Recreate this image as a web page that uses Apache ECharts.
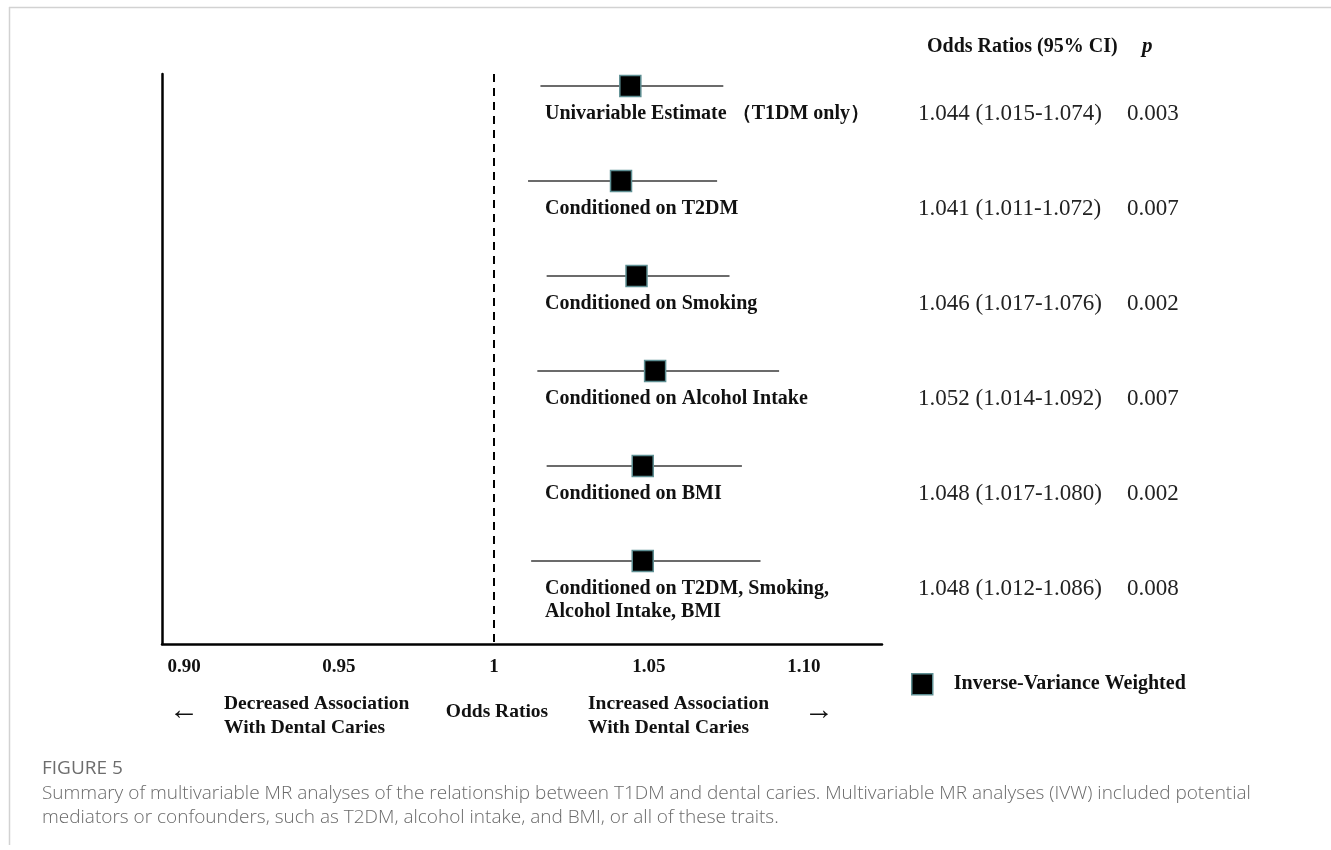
<!DOCTYPE html>
<html>
<head>
<meta charset="utf-8">
<title>Multivariable MR forest plot</title>
<script src="https://cdn.jsdelivr.net/npm/echarts@6/dist/echarts.min.js"></script>
<style>
  html, body { margin: 0; padding: 0; background: #ffffff; }
  #chart { width: 1331px; height: 850px; }
</style>
</head>
<body>
<div id="chart"></div>
<script>
// Estimates per model (IVW), listed top to bottom
const rowLabels = [
  'Univariable Estimate （T1DM only）',
  'Conditioned on T2DM',
  'Conditioned on Smoking',
  'Conditioned on Alcohol Intake',
  'Conditioned on BMI',
  'Conditioned on T2DM, Smoking,\nAlcohol Intake, BMI'
];
const oddsRatios = [1.044, 1.041, 1.046, 1.052, 1.048, 1.048];
const ciLower    = [1.015, 1.011, 1.017, 1.014, 1.017, 1.012];
const ciUpper    = [1.074, 1.072, 1.076, 1.092, 1.080, 1.086];
const pValues    = ['0.003', '0.007', '0.002', '0.007', '0.002', '0.008'];

// x-axis ticks
const xTicks      = [0.90, 0.95, 1, 1.05, 1.10];
const xTickLabels = ['0.90', '0.95', '1', '1.05', '1.10'];

const seriesName = 'Inverse-Variance Weighted';

const SERIF = '"Liberation Serif", "Times New Roman", serif';
const SANS  = '"Open Sans", "Noto Sans", sans-serif';

const chart = echarts.init(document.getElementById('chart'), null, { renderer: 'canvas' });

const rows = rowLabels.map((_, i) => [i, ciLower[i], oddsRatios[i], ciUpper[i]]);

function renderRow(params, api) {
  const i = api.value(0);
  const lo = api.coord([api.value(1), i]);
  const est = api.coord([api.value(2), i]);
  const hi = api.coord([api.value(3), i]);
  const y = est[1];
  const box = 21;
  return {
    type: 'group',
    children: [
      { type: 'line', shape: { x1: lo[0], y1: y, x2: hi[0], y2: y },
        style: { stroke: '#3a3a3a', lineWidth: 1.6 } },
      { type: 'rect', shape: { x: est[0] - box / 2, y: y - box / 2, width: box, height: box },
        style: { fill: '#000000', stroke: '#5e8f93', lineWidth: 1.5 } },
      { type: 'text', x: 545, y: y + 16.5,
        style: { text: rowLabels[i], font: 'bold 20px ' + SERIF, fill: '#111111',
                 verticalAlign: 'top', lineHeight: 23 } },
      { type: 'text', x: 918, y: y + 28,
        style: { text: oddsRatios[i].toFixed(3) + ' (' + ciLower[i].toFixed(3) + '-' + ciUpper[i].toFixed(3) + ')',
                 font: '23px ' + SERIF, fill: '#222222', verticalAlign: 'middle' } },
      { type: 'text', x: 1127, y: y + 28,
        style: { text: pValues[i], font: '23px ' + SERIF, fill: '#222222', verticalAlign: 'middle' } }
    ]
  };
}

const option = {
  animation: false,
  backgroundColor: '#ffffff',
  grid: { left: 162, top: 74, width: 720, height: 570 },
  xAxis: {
    type: 'value',
    min: 0.8929,
    max: 1.1252,
    axisLine: { show: true, onZero: false, lineStyle: { color: '#000000', width: 2.5 } },
    axisTick: { show: false },
    splitLine: { show: false },
    axisLabel: {
      customValues: xTicks,
      margin: 14,
      color: '#111111',
      fontFamily: SERIF,
      fontWeight: 'bold',
      fontSize: 19,
      formatter: function (v) {
        let k = 0;
        xTicks.forEach((t, j) => { if (Math.abs(t - v) < Math.abs(xTicks[k] - v)) k = j; });
        return xTickLabels[k];
      }
    }
  },
  yAxis: {
    type: 'value',
    inverse: true,
    min: -0.126,
    max: 5.874,
    axisLine: { show: true, onZero: false, lineStyle: { color: '#000000', width: 2.5 } },
    axisTick: { show: false },
    axisLabel: { show: false },
    splitLine: { show: false }
  },
  legend: {
    left: 911,
    top: 673,
    padding: 0,
    itemWidth: 21,
    itemHeight: 21,
    selectedMode: false,
    data: [{ name: seriesName, icon: 'rect',
             itemStyle: { color: '#000000', borderColor: '#5e8f93', borderWidth: 1.5 } }],
    textStyle: { fontFamily: SERIF, fontWeight: 'bold', fontSize: 20, color: '#111111',
                 padding: [0, 0, 0, 16] }
  },
  series: [{
    name: seriesName,
    type: 'custom',
    renderItem: renderRow,
    encode: { x: [1, 2, 3], y: 0 },
    data: rows,
    silent: true,
    itemStyle: { color: '#000000' },
    markLine: {
      silent: true,
      symbol: 'none',
      label: { show: false },
      lineStyle: { type: [8, 6], color: '#000000', width: 2 },
      data: [{ xAxis: 1 }]
    }
  }],
  graphic: [
    // panel frame
    { type: 'line', shape: { x1: 9, y1: 7.5, x2: 1331, y2: 7.5 },
      style: { stroke: '#d2d2d2', lineWidth: 1.5 } },
    { type: 'line', shape: { x1: 9.5, y1: 7, x2: 9.5, y2: 845 },
      style: { stroke: '#d2d2d2', lineWidth: 1.5 } },
    // column headers
    { type: 'text', x: 927, y: 47,
      style: { text: 'Odds Ratios (95% CI)', font: 'bold 20px ' + SERIF, fill: '#111111', verticalAlign: 'middle' } },
    { type: 'text', x: 1142, y: 47,
      style: { text: 'p', font: 'italic bold 21px ' + SERIF, fill: '#111111', verticalAlign: 'middle' } },
    // direction annotations under the axis
    { type: 'text', x: 184, y: 711,
      style: { text: '←', font: '30px ' + SERIF, fill: '#111111', align: 'center', verticalAlign: 'middle' } },
    { type: 'text', x: 224, y: 692,
      style: { text: 'Decreased Association\nWith Dental Caries', font: 'bold 19.5px ' + SERIF,
               fill: '#111111', verticalAlign: 'top', lineHeight: 24 } },
    { type: 'text', x: 497, y: 712,
      style: { text: 'Odds Ratios', font: 'bold 19.5px ' + SERIF, fill: '#111111',
               align: 'center', verticalAlign: 'middle' } },
    { type: 'text', x: 588, y: 692,
      style: { text: 'Increased Association\nWith Dental Caries', font: 'bold 19.5px ' + SERIF,
               fill: '#111111', verticalAlign: 'top', lineHeight: 24 } },
    { type: 'text', x: 819, y: 711,
      style: { text: '→', font: '30px ' + SERIF, fill: '#111111', align: 'center', verticalAlign: 'middle' } },
    // figure caption
    { type: 'text', x: 42, y: 769,
      style: { text: 'FIGURE 5', font: '500 19px ' + SANS, fill: '#6d6d6d', verticalAlign: 'middle' } },
    { type: 'text', x: 42, y: 782,
      style: { text: 'Summary of multivariable MR analyses of the relationship between T1DM and dental caries. Multivariable MR analyses (IVW) included potential\nmediators or confounders, such as T2DM, alcohol intake, and BMI, or all of these traits.',
               font: '300 19px ' + SANS, fill: '#6a6a6a', verticalAlign: 'top', lineHeight: 24 } }
  ]
};

chart.setOption(option);
</script>
</body>
</html>
